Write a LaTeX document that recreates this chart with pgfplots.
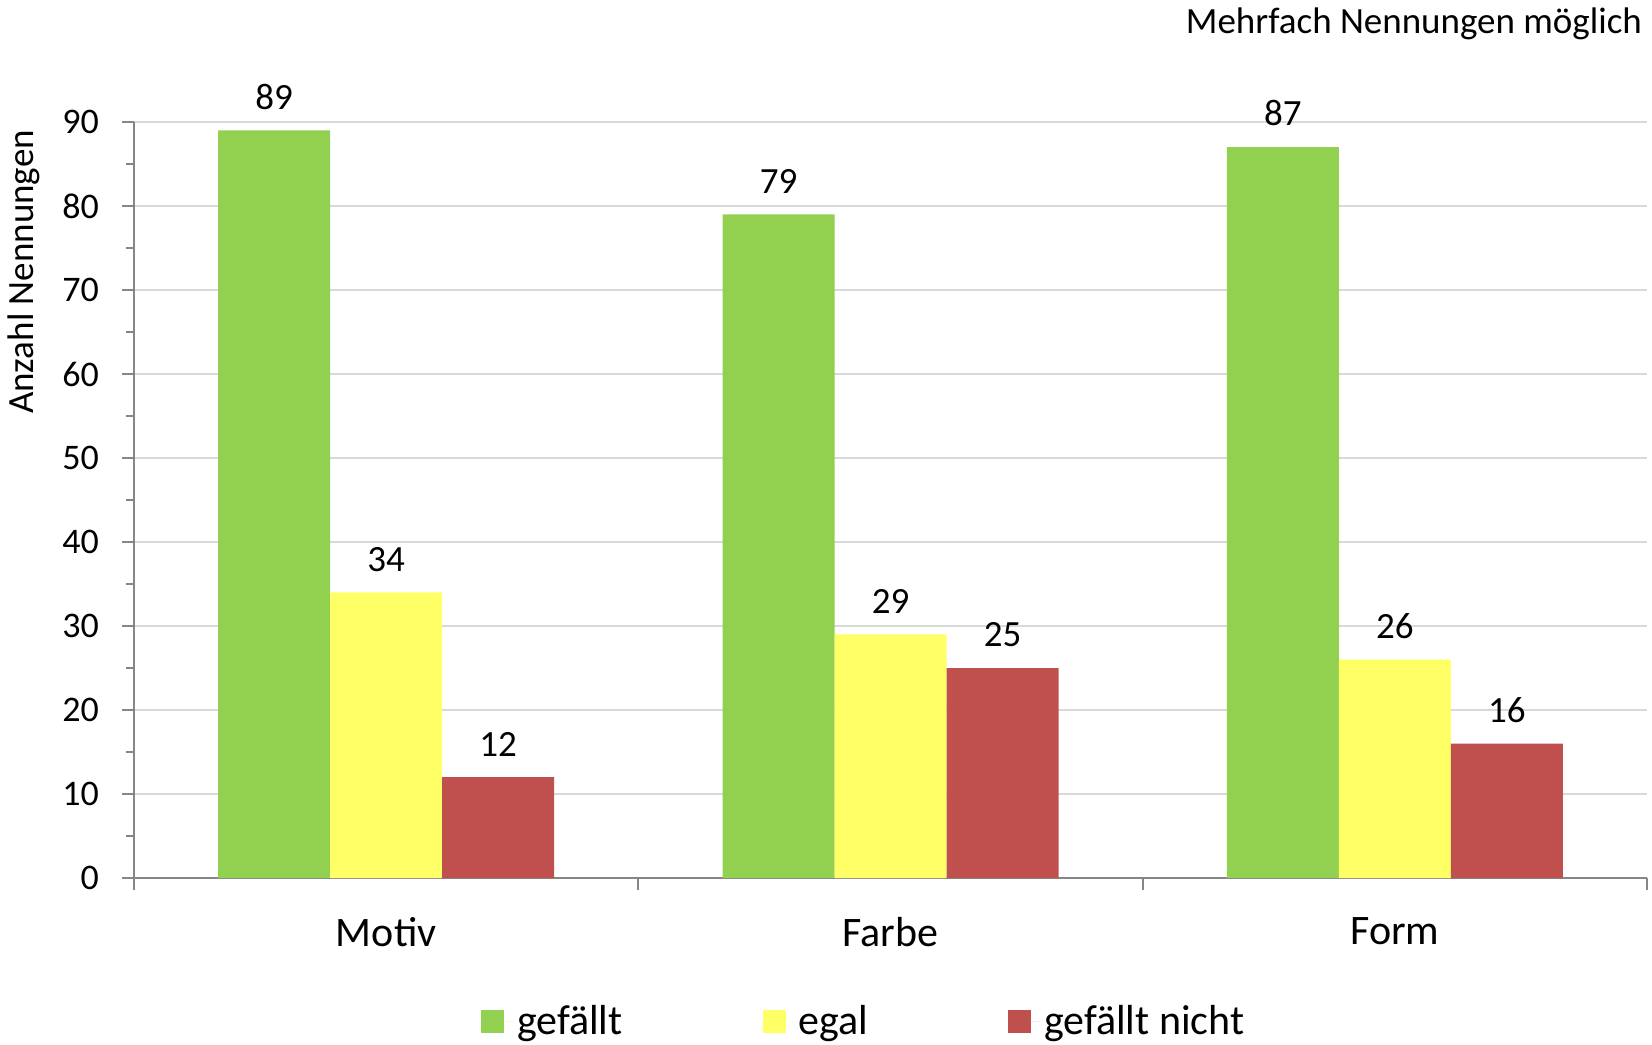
\documentclass[border=0pt]{standalone}
\usepackage{fontspec}
\setmainfont{Carlito}
\usepackage{pgfplots}
\pgfplotsset{compat=1.18}
\definecolor{cGreen}{HTML}{92D050}
\definecolor{cYellow}{HTML}{FFFF66}
\definecolor{cRed}{HTML}{C0504D}
\definecolor{cGrid}{HTML}{D9D9D9}
\definecolor{cAxis}{HTML}{868686}
\begin{document}
\begin{tikzpicture}
\useasboundingbox (0,0) rectangle (826pt,522pt);
\begin{axis}[
  at={(67pt,83pt)}, anchor=south west,
  scale only axis, width=756.5pt, height=378pt,
  ybar, bar width=56pt,
  xmin=-0.5, xmax=2.5, ymin=0, ymax=90,
  xtick={-0.5,0.5,1.5,2.5}, xticklabels={},
  extra x ticks={0,1,2}, extra x tick labels={Motiv,Farbe,Form},
  extra x tick style={tick style={draw=none}, grid=none,
     tick label style={font=\fontsize{21}{25}\selectfont, yshift=-10pt}},
  ytick={0,10,...,90}, minor ytick={5,15,...,85},
  axis x line*=bottom, axis y line*=left,
  axis line style={-, draw=cAxis, line width=1pt},
  tick style={cAxis, line width=1pt},
  major tick length=6pt, minor tick length=4pt,
  tick align=outside,
  ymajorgrids, grid style={cGrid, line width=1pt},
  yticklabel style={font=\fontsize{18}{22}\selectfont, xshift=-8pt},
  /pgf/number format/assume math mode=true,
  nodes near coords,
  every node near coord/.append style={font=\fontsize{18.5}{22}\selectfont, black, yshift=7pt},
  every axis plot post/.append style={legend image code/.code={\fill[##1] (0pt,-5.75pt) rectangle (11.5pt,5.75pt); \path (0pt,0pt) -- (16pt,0pt);}},
  legend columns=3,
  legend style={at={(0.483,-0.19)}, anchor=center, draw=none, fill=none,
     font=\fontsize{21}{25}\selectfont,
     /tikz/every even column/.append style={column sep=68pt}},
]
\addplot[fill=cGreen, draw=none, bar shift=-56pt] coordinates {(0,89) (1,79) (2,87)};
\addplot[fill=cYellow, draw=none, bar shift=0pt] coordinates {(0,34) (1,29) (2,26)};
\addplot[fill=cRed, draw=none, bar shift=56pt] coordinates {(0,12) (1,25) (2,16)};
\legend{gefällt, egal, gefällt nicht}
\end{axis}
\node[anchor=base east, font=\fontsize{18.5}{22}\selectfont] at (824.5pt,505pt) {Mehrfach Nennungen möglich};
\node[rotate=90, anchor=center, font=\fontsize{18.5}{22}\selectfont] at (12pt,386pt) {Anzahl Nennungen};
\end{tikzpicture}
\end{document}
